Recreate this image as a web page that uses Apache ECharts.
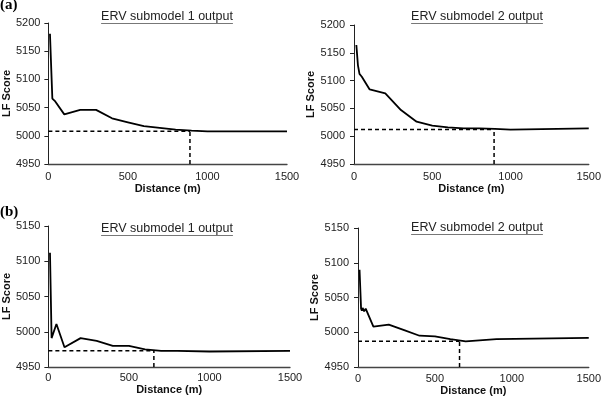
<!DOCTYPE html>
<html>
<head>
<meta charset="utf-8">
<script src="https://cdn.jsdelivr.net/npm/echarts@6/dist/echarts.min.js"></script>
<style>
html,body{margin:0;padding:0;background:#fff;}
#chart{width:604px;height:399px;}
</style>
</head>
<body>
<div id="chart"></div>
<script>
// ---- Data ----
const titles = ["ERV submodel 1 output", "ERV submodel 2 output", "ERV submodel 1 output", "ERV submodel 2 output"];
const panelLabels = ["(a)", "(b)"];
const xTicks = [0, 500, 1000, 1500];
const yRangeTop = [4950, 5200];
const yRangeBottom = [4950, 5150];

// (a) submodel 1
const distA1 = [10, 25, 40, 100, 200, 300, 400, 500, 600, 700, 800, 900, 1000, 1500];
const scoreA1 = [5181, 5066, 5062, 5038, 5046, 5046, 5031, 5024, 5017, 5014, 5011, 5009, 5008, 5008];
// (a) submodel 2
const distA2 = [15, 25, 35, 50, 100, 200, 300, 400, 500, 600, 700, 800, 900, 1000, 1500];
const scoreA2 = [5164, 5128, 5112, 5107, 5084, 5077, 5047, 5026, 5019, 5016, 5014, 5014, 5013, 5012, 5014];
// (b) submodel 1
const distB1 = [10, 20, 50, 100, 200, 300, 400, 500, 600, 700, 800, 1000, 1500];
const scoreB1 = [5112, 4991, 5011, 4978, 4991, 4987, 4980, 4980, 4975, 4973, 4973, 4972, 4973];
// (b) submodel 2
const distB2 = [10, 20, 25, 30, 40, 50, 100, 200, 300, 400, 500, 600, 700, 900, 1500];
const scoreB2 = [5090, 5034, 5031, 5035, 5030, 5034, 5008, 5011, 5003, 4995, 4994, 4990, 4987, 4990, 4992];

// optimum (dashed guide) points: [distance, score]
const optimumA1 = [890, 5008];
const optimumA2 = [895, 5012];
const optimumB1 = [655, 4973];
const optimumB2 = [660, 4987];

// ---- Build chart ----
const FONT = '"Liberation Sans", Arial, sans-serif';
const panels = [
  {d: distA1, s: scoreA1, opt: optimumA1, yr: yRangeTop,    grid: {left: 47,  top: 23,  width: 240, height: 141}, lm: 7, ng: 19, yng: 32, ylm: 8},
  {d: distA2, s: scoreA2, opt: optimumA2, yr: yRangeTop,    grid: {left: 354, top: 25,  width: 244, height: 139}, lm: 7, ng: 19, yng: 27, ylm: 9},
  {d: distB1, s: scoreB1, opt: optimumB1, yr: yRangeBottom, grid: {left: 48,  top: 226, width: 242, height: 141}, lm: 5, ng: 17, yng: 32, ylm: 8},
  {d: distB2, s: scoreB2, opt: optimumB2, yr: yRangeBottom, grid: {left: 358, top: 228, width: 243, height: 139}, lm: 6, ng: 18, yng: 29, ylm: 9}
];
const plain = v => String(v);

const grid = [], xAxis = [], yAxis = [], series = [];
panels.forEach((p, i) => {
  grid.push(Object.assign({containLabel: false}, p.grid));
  xAxis.push({
    type: 'value', gridIndex: i, min: xTicks[0], max: xTicks[xTicks.length - 1], interval: 500,
    name: 'Distance (m)', nameLocation: 'middle', nameGap: p.ng,
    nameTextStyle: {fontFamily: FONT, fontWeight: 'bold', fontSize: 11, color: '#111'},
    axisLine: {lineStyle: {color: '#444', width: 1.3}},
    axisTick: {show: false},
    splitLine: {show: false},
    axisLabel: {fontFamily: FONT, fontSize: 11, color: '#222', margin: p.lm, formatter: plain}
  });
  yAxis.push({
    type: 'value', gridIndex: i, min: p.yr[0], max: p.yr[1], interval: 50,
    name: 'LF Score', nameLocation: 'middle', nameGap: p.yng, nameRotate: 90,
    nameTextStyle: {fontFamily: FONT, fontWeight: 'bold', fontSize: 11, color: '#111'},
    axisLine: {show: true, lineStyle: {color: '#222', width: 1}},
    axisTick: {show: true, length: 4, lineStyle: {color: '#222'}},
    splitLine: {show: false},
    axisLabel: {fontFamily: FONT, fontSize: 11, color: '#222', margin: p.ylm, formatter: plain}
  });
  series.push({
    type: 'line', xAxisIndex: i, yAxisIndex: i, symbol: 'none', smooth: false,
    data: p.d.map((x, k) => [x, p.s[k]]),
    lineStyle: {color: '#000', width: 1.8}, z: 3
  });
  // dashed horizontal guide from x=0 to optimum distance
  series.push({
    type: 'line', xAxisIndex: i, yAxisIndex: i, symbol: 'none',
    data: [[xTicks[0], p.opt[1]], [p.opt[0], p.opt[1]]],
    lineStyle: {color: '#000', width: 1.5, type: [4, 3]}, z: 2
  });
  // dashed vertical guide from axis bottom to optimum score
  series.push({
    type: 'line', xAxisIndex: i, yAxisIndex: i, symbol: 'none',
    data: [[p.opt[0], p.yr[0]], [p.opt[0], p.opt[1]]],
    lineStyle: {color: '#000', width: 1.5, type: [4, 3]}, z: 2
  });
});

// Titles with underline
const titleFont = '12.5px ' + FONT;
const ctx = document.createElement('canvas').getContext('2d');
ctx.font = titleFont;
const titlePos = [[167, 17], [477, 17], [167, 229], [477, 228]];
const graphic = [];
titles.forEach((t, i) => {
  const w = ctx.measureText(t).width;
  const [cx, cy] = titlePos[i];
  graphic.push({
    type: 'text', left: cx - w / 2, top: cy - 7,
    style: {text: t, font: titleFont, fill: '#222'}
  });
  graphic.push({
    type: 'line', shape: {x1: cx - w / 2, y1: cy + 6.5, x2: cx + w / 2, y2: cy + 6.5},
    style: {stroke: '#777', lineWidth: 1.2}
  });
});
graphic.push({type: 'text', left: 0, top: -2, style: {text: panelLabels[0], font: 'bold 15px "Liberation Serif", "Times New Roman", serif', fill: '#000'}});
graphic.push({type: 'text', left: 0, top: 205, style: {text: panelLabels[1], font: 'bold 15px "Liberation Serif", "Times New Roman", serif', fill: '#000'}});

const chart = echarts.init(document.getElementById('chart'), null, {renderer: 'canvas'});
chart.setOption({
  backgroundColor: '#fff',
  animation: false,
  grid, xAxis, yAxis, series, graphic
});
</script>
</body>
</html>
